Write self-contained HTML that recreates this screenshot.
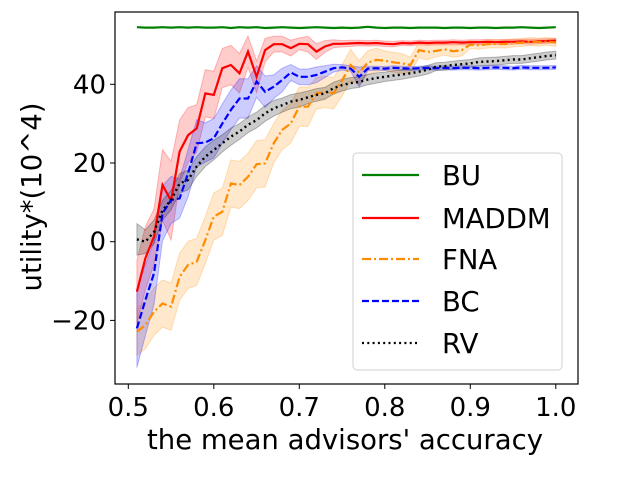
<!DOCTYPE html>
<html><head><meta charset="utf-8"><style>
html,body{margin:0;padding:0;background:#fff;}
svg text{font-family:"DejaVu Sans","Liberation Sans",sans-serif;}
</style></head><body>
<svg id="chart" width="640" height="480" viewBox="0 0 640 480" xmlns="http://www.w3.org/2000/svg">
<g id="bands"></g>
<g id="lines"></g>
<g id="axes"></g>
<g id="legend"></g>
</svg>
<script>
const xTicks=[0.5,0.6,0.7,0.8,0.9,1.0];
const xTickLabels=["0.5","0.6","0.7","0.8","0.9","1.0"];
const yTicks=[-20,0,20,40];
const yTickLabels=["\u221220","0","20","40"];
const seriesNames=["BU","MADDM","FNA","BC","RV"];
const bu=[54.5,54.4,54.4,54.5,54.4,54.5,54.4,54.5,54.4,54.4,54.5,54.3,54.5,54.4,54.5,54.3,54.4,54.5,54.4,54.3,54.4,54.5,54.4,54.3,54.4,54.3,54.4,54.6,54.4,54.3,54.4,54.4,54.3,54.4,54.4,54.4,54.3,54.4,54.4,54.3,54.4,54.4,54.3,54.4,54.4,54.5,54.4,54.3,54.4,54.5];
const maddm=[-12.7,-4.2,1.3,14.4,10.4,22.9,27.1,28.8,37.7,37.3,44.1,44.9,42.8,48.3,41.9,48.7,50.2,50.2,49.2,50.3,50.2,48.3,49.6,50.3,50.3,50.4,50.5,50.4,50.5,50.3,50.2,50.5,50.4,50.6,50.5,50.6,50.6,50.7,50.6,50.7,50.7,50.8,50.7,50.8,50.8,50.9,50.8,50.9,51.0,51.1];
const fna=[-22.9,-21.2,-17.8,-15.7,-16.5,-8.9,-5.9,-5.1,0.4,6.4,7.6,14.8,14.4,16.5,19.7,19.9,25,28.4,30.1,34.3,34.3,37.7,38.1,37.7,41,44.9,43,45.5,46.2,46,45.6,45.3,44.9,48.7,48.2,48.5,48.9,48.4,48.7,50.1,49.9,50.2,50.3,50.2,50.5,50.6,50.9,50.7,50.9,50.6];
const bc=[-22,-14.8,-8,7.2,10.6,11,17.4,25,25.2,26.3,30,33.5,36.4,36.4,40.7,38.1,39.4,41.1,43,41.9,41.9,42.4,43.2,44.1,44.3,44,41.9,44,44.1,44,44.2,44.1,44,44.1,44.2,44.1,44.2,44.1,44.2,44.2,44.1,44.2,44.3,44.2,44.1,44.3,44.2,44.2,44.2,44.3];
const rv=[0.6,0,2.5,8,10.6,14.8,15.7,19.1,21.6,23.3,25,26.7,28,29.7,30.9,32.6,33.9,34.7,35.6,36,36.7,37.3,37.7,39,39.8,40.3,40.6,41.2,41.6,41.9,42.2,42.5,42.8,43.2,43.7,44.5,44.6,44.9,45.1,45.3,45.7,45.8,45.9,46.1,46.3,46.3,46.6,46.9,47.2,47.4];
const maddmStd=[8,8,7,9,10,8,7,6,6,6,5,5,5,4,4,3,2,2,2,1.5,2,2,1.5,1,0.8,0.8,0.7,0.7,0.7,0.7,0.7,0.6,0.6,0.6,0.6,0.6,0.6,0.6,0.6,0.6,0.6,0.6,0.6,0.6,0.6,0.6,0.6,0.6,0.6,0.6];
const fnaStd=[6,6,6,6,6,6,6,6,6,6,6,6,6,6,6,6,5,5,5,5,5,4,4,4,4,4,3,3,3,2.5,2.5,2.5,2,2,2,1.5,1.5,1.5,1.5,1,1,1,1,1,1,1,1,1,1,1];
const bcStd=[10,9,8,7,6,5,6,6,5,5,5,5,5,5,4,4,3,3,2,2,2,2,1.5,1,0.7,0.7,2.5,0.6,0.5,0.5,0.5,0.5,0.5,0.5,0.5,0.5,0.5,0.5,0.5,0.5,0.5,0.5,0.5,0.5,0.5,0.5,0.5,0.5,0.5,0.5];
const rvStd=[4,3,3,2.5,2.5,2.5,2.5,2.5,2.5,2.5,2.2,2.2,2,2,2,2,2,1.8,1.8,1.8,1.6,1.6,1.5,1.5,1.5,1.4,1.4,1.3,1.3,1.2,1.2,1.2,1.1,1.1,1.1,1,1,1,1,1,1,1,1,1,1,1,1,1,1,1];
const xVals=[];for(let i=0;i<50;i++){xVals.push(Math.round((0.51+i*0.01)*100)/100);}

const NS="http://www.w3.org/2000/svg";
const L=115,R=578,T=12,B=384;
function sx(v){return 128.3+(v-0.5)*855;}
function sy(v){return 241.7-v*3.935;}
function mk(tag,attrs,parent){const e=document.createElementNS(NS,tag);for(const k in attrs)e.setAttribute(k,attrs[k]);parent.appendChild(e);return e;}
const bands=document.getElementById('bands'),lines=document.getElementById('lines'),axes=document.getElementById('axes'),legend=document.getElementById('legend');

function band(vals,std,color,name){
  let d="";
  vals.forEach((v,i)=>{d+=(i?"L":"M")+sx(xVals[i]).toFixed(1)+","+sy(v+std[i]).toFixed(1);});
  for(let i=vals.length-1;i>=0;i--){d+="L"+sx(xVals[i]).toFixed(1)+","+sy(vals[i]-std[i]).toFixed(1);}
  const p=mk('path',{d:d+"Z",fill:color,'fill-opacity':0.2,stroke:color,'stroke-opacity':0.25,'stroke-width':1},bands);
  
  
}
function line(vals,color,dash,name,w){
  let d="";
  vals.forEach((v,i)=>{d+=(i?"L":"M")+sx(xVals[i]).toFixed(1)+","+sy(v).toFixed(1);});
  const p=mk('path',{d:d,fill:'none',stroke:color,'stroke-width':w||2.2,'stroke-dasharray':dash},lines);
  
  
}
band(maddm,maddmStd,'#ff0000','maddm-band');
band(fna,fnaStd,'#ff8c00','fna-band');
band(bc,bcStd,'#0000ff','bc-band');
band(rv,rvStd,'#000000','rv-band');
line(bu,'#008000','none','bu-line');
line(maddm,'#ff0000','none','maddm-line');
line(fna,'#ff8c00','9 3 2 3','fna-line');
line(bc,'#0000ff','7 3','bc-line');
line(rv,'#000000','2 3.3','rv-line',2.4);

const frame=mk('rect',{x:L,y:T,width:R-L,height:B-T,fill:'none',stroke:'#000','stroke-width':1.2},axes);


xTicks.forEach((t,i)=>{
  const x=sx(t);
  const tk=mk('line',{x1:x,x2:x,y1:B,y2:B+5,stroke:'#000','stroke-width':1},axes);
  
  
  const tx=mk('text',{x:x,y:B+32,'text-anchor':'middle','font-size':26},axes);
  tx.textContent=xTickLabels[i];
  
  
});
yTicks.forEach((t,i)=>{
  const y=sy(t);
  const tk=mk('line',{x1:L-5,x2:L,y1:y,y2:y,stroke:'#000','stroke-width':1},axes);
  
  
  const tx=mk('text',{x:L-9,y:y+9,'text-anchor':'end','font-size':26},axes);
  tx.textContent=yTickLabels[i];
  
  
});
const xt=mk('text',{x:345,y:449,'text-anchor':'middle','font-size':27.5},axes);
xt.textContent="the mean advisors' accuracy";


const yt=mk('text',{x:0,y:0,'text-anchor':'middle','font-size':27.5,transform:'translate(41,197) rotate(-90)'},axes);
yt.textContent="utility*(10^4)";



const lb=mk('rect',{x:353,y:153,width:209,height:217,rx:4,fill:'#fff','fill-opacity':0.8,stroke:'#d0d0d0','stroke-width':1},legend);


const legColors=['#008000','#ff0000','#ff8c00','#0000ff','#000000'];
const legDash=['none','none','9 3 2 3','7 3','2 3.3'];
const legY=[175,218,259,301,343];
seriesNames.forEach((n,i)=>{
  const g=mk('g',{},legend);
  
  
  mk('line',{x1:362,x2:419,y1:legY[i],y2:legY[i],stroke:legColors[i],'stroke-width':2.2,'stroke-dasharray':legDash[i]},g);
  const t=mk('text',{x:442,y:legY[i]+10,'font-size':27.5},g);
  t.textContent=n;
});
</script>
</body></html>
